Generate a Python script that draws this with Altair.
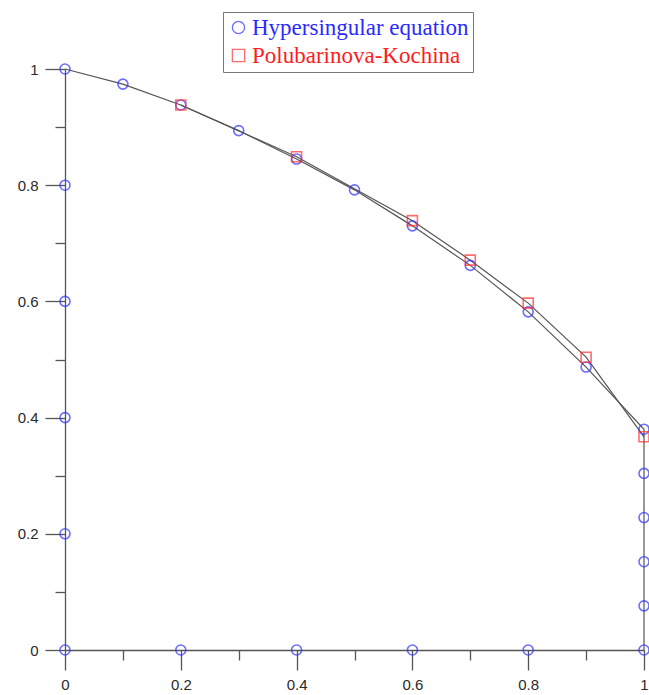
import altair as alt
import pandas as pd

# Free surface (hypersingular equation)
fs_x = [0.0, 0.1, 0.2, 0.3, 0.4, 0.5, 0.6, 0.7, 0.8, 0.9, 1.0]
fs_y = [1.0, 0.974, 0.938, 0.894, 0.845, 0.792, 0.730, 0.662, 0.582, 0.487, 0.380]
# Seepage face at x = 1
sf_y = [0.304, 0.228, 0.152, 0.076, 0.0]
# Bottom boundary points (y = 0)
bot_x = [0.8, 0.6, 0.4, 0.2, 0.0]
# Left boundary points (x = 0)
left_y = [0.2, 0.4, 0.6, 0.8]
# Polubarinova-Kochina
pk_x = [0.2, 0.4, 0.6, 0.7, 0.8, 0.9, 1.0]
pk_y = [0.938, 0.849, 0.739, 0.671, 0.597, 0.504, 0.367]

H = "Hypersingular equation"
P = "Polubarinova-Kochina"

rows = []
k = 0
for x, y in zip(fs_x, fs_y):
    rows.append({"x": x, "y": y, "series": H, "o": k, "line": True}); k += 1
for y in sf_y:
    rows.append({"x": 1.0, "y": y, "series": H, "o": k, "line": True}); k += 1
for x in bot_x:
    rows.append({"x": x, "y": 0.0, "series": H, "o": k, "line": False}); k += 1
for y in left_y:
    rows.append({"x": 0.0, "y": y, "series": H, "o": k, "line": False}); k += 1
for i, (x, y) in enumerate(zip(pk_x, pk_y)):
    rows.append({"x": x, "y": y, "series": P, "o": i, "line": True})
df = pd.DataFrame(rows)

ticks = [0, 0.1, 0.2, 0.3, 0.4, 0.5, 0.6, 0.7, 0.8, 0.9, 1.0]
minor_test = "round(datum.value*10) % 2 == 1"
label_expr = "round(datum.value*10) % 2 == 0 ? format(datum.value, '~g') : ''"
tick_dash = {"condition": {"test": minor_test, "value": [10, 30]}, "value": [30, 0]}

common_axis = dict(
    values=ticks, title=None, grid=False, tickSize=20, tickDash=tick_dash,
    labelExpr=label_expr, labelFont="Liberation Sans", labelFontSize=15,
    labelColor="#2a2a2a", domainColor="#555555", tickColor="#555555",
    domainWidth=1.3, tickWidth=1.3, labelPadding=7, labelFlush=False,
    labelOverlap=False,
)

xenc = alt.X("x:Q", scale=alt.Scale(domain=[0, 1], nice=False, zero=False),
             axis=alt.Axis(**common_axis))
yenc = alt.Y("y:Q", scale=alt.Scale(domain=[0, 1], nice=False, zero=False),
             axis=alt.Axis(**common_axis))

base = alt.Chart(df)

lines = base.transform_filter("datum.line").mark_line(
    color="#555555", strokeWidth=1.2, clip=False
).encode(x=xenc, y=yenc, detail="series:N", order="o:Q")

legend = alt.Legend(
    title=None, orient="none", legendX=158, legendY=-57,
    strokeColor="#777777", fillColor="white", padding=4, cornerRadius=0,
    labelFont="Liberation Serif", labelFontSize=23, labelLimit=0,
    labelColor={"expr": "datum.label == 'Hypersingular equation' ? '#2a2aff' : '#ff1c1c'"},
    symbolSize=150, symbolStrokeWidth=1.3, symbolFillColor="transparent",
    rowPadding=4, labelOffset=2,
)

points = base.mark_point(filled=False, strokeWidth=1.6, size=100, clip=False).encode(
    x=xenc, y=yenc,
    stroke=alt.Stroke("series:N", scale=alt.Scale(domain=[H, P], range=["#3030ff", "#ff3030"]),
                      legend=legend),
    shape=alt.Shape("series:N", scale=alt.Scale(domain=[H, P], range=["circle", "square"]),
                    legend=legend),
)

chart = alt.layer(lines, points).properties(
    width=579, height=581,
    autosize=alt.AutoSizeParams(type="none"),
    padding={"left": 65, "top": 69, "right": 5, "bottom": 45},
    background="white",
).configure_view(stroke=None)

chart.save("out.html", embed_options={"renderer": "svg", "actions": False})
